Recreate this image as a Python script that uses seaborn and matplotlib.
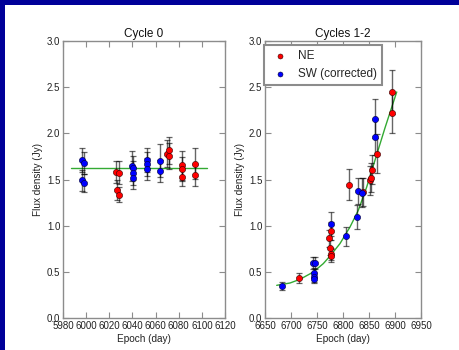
import matplotlib
matplotlib.use("Agg")
import matplotlib.pyplot as plt
import seaborn as sns
import numpy as np
import pandas as pd
from matplotlib.patches import Rectangle

# ---- Cycle 0 -------------------------------------------------------------
c0_ne_epoch = [6026.0, 6028.5, 6026.5, 6028.5, 6070.0, 6071.5, 6071.5,
               6083.0, 6083.0, 6083.0, 6094.0, 6094.0]
c0_ne_flux = [1.580, 1.575, 1.390, 1.335, 1.780, 1.815, 1.750,
              1.653, 1.614, 1.527, 1.671, 1.549]
c0_ne_err = [0.12, 0.12, 0.11, 0.08, 0.15, 0.15, 0.14,
             0.16, 0.13, 0.10, 0.17, 0.12]

c0_sw_epoch = [5996.0, 5998.0, 5996.0, 5998.0, 6039.5, 6040.5, 6040.5, 6040.5,
               6053.0, 6053.0, 6053.0, 6064.0, 6064.0]
c0_sw_flux = [1.715, 1.680, 1.490, 1.460, 1.646, 1.621, 1.574, 1.516,
              1.711, 1.671, 1.614, 1.704, 1.592]
c0_sw_err = [0.13, 0.12, 0.11, 0.10, 0.16, 0.13, 0.13, 0.12,
             0.13, 0.13, 0.12, 0.18, 0.12]

c0_fit_epoch = [5986.6, 6104.5]
c0_fit_flux = [1.628, 1.628]

# ---- Cycles 1-2 ----------------------------------------------------------
c12_ne_epoch = [6715.0, 6773.0, 6775.5, 6776.0, 6776.0, 6777.0, 6812.0,
                6838.0, 6852.0, 6853.0, 6855.5, 6865.0, 6894.0, 6894.0]
c12_ne_flux = [0.433, 0.863, 0.762, 0.693, 0.675, 0.942, 1.444,
               1.368, 1.491, 1.520, 1.606, 1.780, 2.444, 2.220]
c12_ne_err = [0.05, 0.09, 0.08, 0.07, 0.07, 0.10, 0.17,
              0.15, 0.16, 0.16, 0.16, 0.21, 0.24, 0.22]

c12_sw_epoch = [6683.0, 6743.0, 6747.0, 6745.0, 6745.0, 6745.0, 6777.5,
                6806.0, 6826.0, 6828.5, 6836.0, 6862.0, 6862.0]
c12_sw_flux = [0.347, 0.592, 0.592, 0.491, 0.440, 0.426, 1.022,
               0.884, 1.094, 1.372, 1.357, 1.960, 2.159]
c12_sw_err = [0.04, 0.065, 0.065, 0.05, 0.045, 0.045, 0.13,
              0.10, 0.13, 0.14, 0.16, 0.20, 0.21]

c12_fit_epoch = [6672.5, 6698.1, 6717.3, 6742.9, 6762.1, 6775.0, 6794.2,
                 6813.5, 6829.4, 6845.6, 6863.5, 6880.8, 6903.3]
c12_fit_flux = [0.354, 0.379, 0.419, 0.498, 0.589, 0.671, 0.806,
                0.986, 1.166, 1.419, 1.745, 2.060, 2.448]

y_ticks = [0.0, 0.5, 1.0, 1.5, 2.0, 2.5, 3.0]

sns.set_style("white")
plt.rcParams["font.family"] = ["Liberation Sans", "DejaVu Sans"]
plt.rcParams["axes.edgecolor"] = "#8c8c8c"
plt.rcParams["axes.linewidth"] = 1.0

fig = plt.figure(figsize=(4.59, 3.50), dpi=100)
fig.patch.set_facecolor("white")

# navy slide frame along the left and top edges
fig.patches.append(Rectangle((0, 0), 5 / 459, 1, transform=fig.transFigure,
                             facecolor="#000099", edgecolor="none", zorder=10))
fig.patches.append(Rectangle((0, 345 / 350), 1, 5 / 350, transform=fig.transFigure,
                             facecolor="#000099", edgecolor="none", zorder=10))

ax0 = fig.add_axes([63 / 459, 32 / 350, 162 / 459, 277 / 350])
ax1 = fig.add_axes([265 / 459, 32 / 350, 156 / 459, 277 / 350])

RED = "#ff0000"
BLUE = "#0000ff"
GREEN = "#33aa33"


def draw_panel(ax, ne, sw, fit, with_labels):
    ne_df = pd.DataFrame({"epoch": ne[0], "flux": ne[1]})
    sw_df = pd.DataFrame({"epoch": sw[0], "flux": sw[1]})
    fit_df = pd.DataFrame({"epoch": fit[0], "flux": fit[1]})
    sns.lineplot(data=fit_df, x="epoch", y="flux", ax=ax, color=GREEN,
                 lw=1.0, sort=False, zorder=1, legend=False)
    for e, f, err in (ne, sw):
        ax.errorbar(e, f, yerr=err, fmt="none", ecolor="black", alpha=0.6,
                    elinewidth=1.0, capsize=2.2, capthick=0.9, zorder=2)
    sns.scatterplot(data=ne_df, x="epoch", y="flux", ax=ax, color=RED,
                    s=20, edgecolor="#330000", linewidth=0.4, zorder=3,
                    label="NE" if with_labels else None)
    sns.scatterplot(data=sw_df, x="epoch", y="flux", ax=ax, color=BLUE,
                    s=20, edgecolor="#000033", linewidth=0.4, zorder=3,
                    label="SW (corrected)" if with_labels else None)


draw_panel(ax0,
           (c0_ne_epoch, c0_ne_flux, c0_ne_err),
           (c0_sw_epoch, c0_sw_flux, c0_sw_err),
           (c0_fit_epoch, c0_fit_flux), False)
draw_panel(ax1,
           (c12_ne_epoch, c12_ne_flux, c12_ne_err),
           (c12_sw_epoch, c12_sw_flux, c12_sw_err),
           (c12_fit_epoch, c12_fit_flux), True)

ax0.set_xlim(5980, 6120)
ax0.set_xticks(np.arange(5980, 6121, 20))
ax1.set_xlim(6650, 6950)
ax1.set_xticks(np.arange(6650, 6951, 50))

for ax, title in ((ax0, "Cycle 0"), (ax1, "Cycles 1-2")):
    ax.set_ylim(0, 3.0)
    ax.set_yticks(y_ticks)
    ax.set_yticklabels([f"{v:.1f}" for v in y_ticks])
    ax.set_title(title, fontsize=8.5, pad=3, color="#111111")
    ax.set_xlabel("Epoch (day)", fontsize=7.2, labelpad=2, color="#222222")
    ax.set_ylabel("Flux density (Jy)", fontsize=7.2, labelpad=3, color="#222222")
    ax.tick_params(axis="both", which="major", direction="in", length=4,
                   width=0.8, color="#8c8c8c", labelsize=7, labelcolor="#222222",
                   top=True, right=True, bottom=True, left=True, pad=2)
    ax.grid(False)
    for sp in ax.spines.values():
        sp.set_visible(True)
        sp.set_color("#8c8c8c")

leg = ax1.legend(loc="upper left", bbox_to_anchor=(-0.006, 0.986),
                 borderaxespad=0, fontsize=8.5, markerscale=0.8,
                 frameon=True, fancybox=False, borderpad=0.45,
                 handletextpad=0.6, labelspacing=0.5, handlelength=1.8)
leg.get_frame().set_edgecolor("#8c8c8c")
leg.get_frame().set_linewidth(1.5)
leg.get_frame().set_facecolor("white")
leg.get_frame().set_alpha(1.0)

fig.savefig("out.png", dpi=100, facecolor="white")
